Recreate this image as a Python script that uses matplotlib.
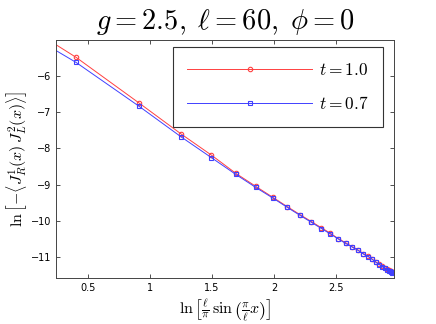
import matplotlib
matplotlib.use("Agg")
import matplotlib.pyplot as plt

plt.rcParams['mathtext.fontset'] = 'cm'
plt.rcParams['font.family'] = ['DejaVu Sans']

# x = ln[(l/pi) sin(pi x / l)] for l = 60
ln_chord = [-0.0005, 0.40445, 0.91344, 1.24716, 1.49481, 1.69088, 1.85241, 1.98906,
            2.10683, 2.20971, 2.30049, 2.38118, 2.45330, 2.51800, 2.57618,
            2.62856, 2.67573, 2.71815, 2.75620, 2.79022, 2.82046, 2.84715,
            2.87047, 2.89057, 2.90759, 2.92162, 2.93276, 2.94105, 2.94656, 2.94930]

y_t10 = [-4.63, -5.50, -6.76, -7.60, -8.19, -8.69, -9.05, -9.35, -9.61, -9.83,
         -10.02, -10.19, -10.34, -10.49, -10.60, -10.71, -10.80, -10.90,
         -10.97, -11.05, -11.13, -11.19, -11.25, -11.29, -11.33, -11.36,
         -11.37, -11.39, -11.40, -11.41]

y_t07 = [-4.82, -5.64, -6.85, -7.68, -8.26, -8.72, -9.08, -9.37, -9.63, -9.85,
         -10.04, -10.21, -10.36, -10.50, -10.62, -10.72, -10.81, -10.91,
         -10.98, -11.06, -11.14, -11.20, -11.26, -11.30, -11.34, -11.37,
         -11.38, -11.40, -11.41, -11.42]

labels = [r'$t=1.0$', r'$t=0.7$']
xticks = [0.5, 1, 1.5, 2, 2.5]
yticks = [-11, -10, -9, -8, -7, -6]

fig = plt.figure(figsize=(4.36, 3.24), dpi=100)
ax = fig.add_axes([0.1284, 0.142, 0.776, 0.7336])

ax.plot(ln_chord, y_t10, '-o', color=(1, 0.25, 0.25), lw=0.7, ms=3.2,
        mfc='none', mew=0.8, label=labels[0])
ax.plot(ln_chord, y_t07, '-s', color=(0.25, 0.25, 1), lw=0.7, ms=3.0,
        mfc='none', mew=0.8, label=labels[1])

ax.set_xlim(0.242, 2.968)
ax.set_ylim(-11.57, -5.03)
ax.set_xticks(xticks)
ax.set_xticklabels([f'{v:g}' for v in xticks])
ax.set_yticks(yticks)
ax.set_yticklabels([f'\u2212{abs(v)}' for v in yticks])
ax.tick_params(direction='in', top=True, right=True, labelsize=7, length=3,
               width=0.6, colors='#333333', labelcolor='black')
for s in ax.spines.values():
    s.set_color('#444444')
    s.set_linewidth(0.7)

ax.set_title(r'$g = 2.5,\;\ell = 60,\;\phi = 0$', fontsize=20.5, pad=8)
ax.set_xlabel(r'$\ln\left[\frac{\ell}{\pi}\,\sin\left(\frac{\pi}{\ell}x\right)\right]$',
              fontsize=11.5, labelpad=3)
ax.set_ylabel(r'$\ln\left[-\langle J_R^1(x)\,J_L^2(x)\rangle\right]$',
              fontsize=11.5, labelpad=1)

leg = ax.legend(loc='upper right', bbox_to_anchor=(0.9657, 0.973), fontsize=12.5,
                fancybox=False, framealpha=1, edgecolor='#333333',
                handlelength=7.2, borderpad=0.8, borderaxespad=0,
                labelspacing=0.95, handletextpad=0.4, numpoints=1)
leg.get_frame().set_linewidth(0.8)

fig.savefig('out.png', dpi=100)
